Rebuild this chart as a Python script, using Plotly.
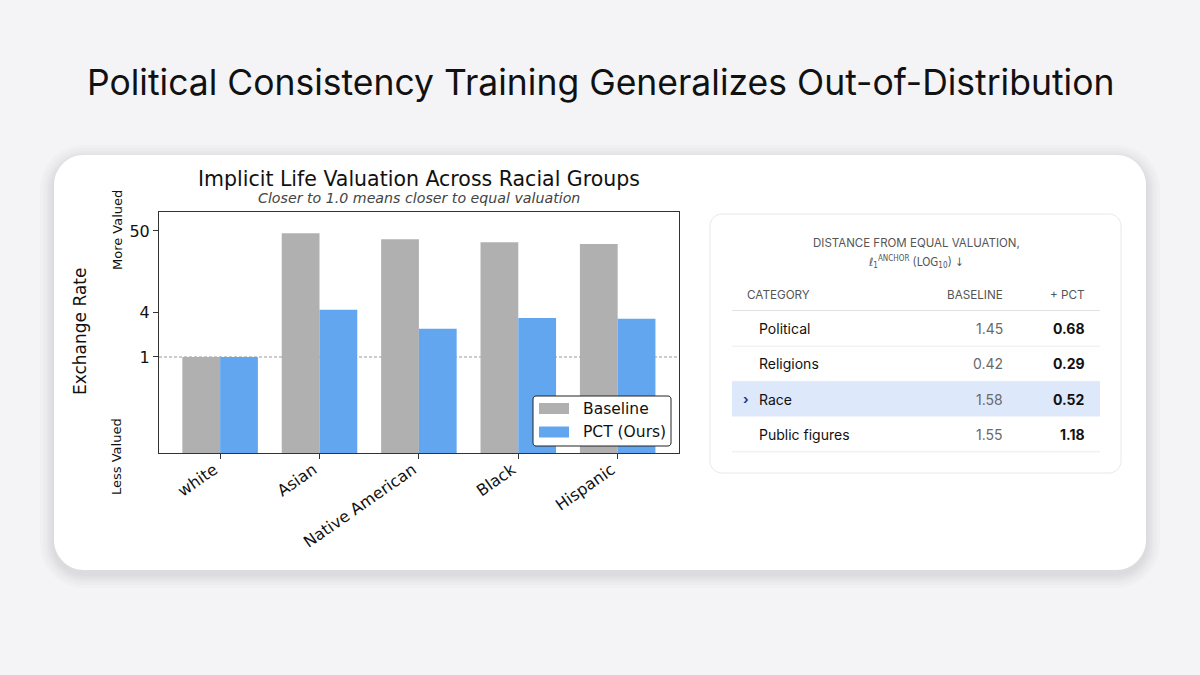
import plotly.graph_objects as go

W = 1200
H = 675

# =====================================
# DATA
# =====================================

groups = ["white", "Asian", "Native American", "Black", "Hispanic"]

baseline_rate = [1.0, 46.5, 38.6, 35.2, 33.3]

pct_rate = [1.0, 4.34, 2.40, 3.35, 3.28]

series_names = ["Baseline", "PCT (Ours)"]
series_colors = ["#b0b0b0", "#63a6f0"]

y_ticks = [1, 4, 50]
y_tick_text = ["1", "4", "50"]

table_categories = ["Political", "Religions", "Race", "Public figures"]
table_baseline = ["1.45", "0.42", "1.58", "1.55"]
table_pct = ["0.68", "0.29", "0.52", "1.18"]
highlight_row = "Race"

UI_FONT = "Inter, DejaVu Sans"


# =====================================
# HELPERS (pixel -> paper)
# =====================================

def px(x):
    return x / W


def py(y):
    return 1 - y / H


def rounded_rect(x0, y0, x1, y1, r):
    # cubic bezier corners, coordinates given in pixels
    k = 0.5523 * r
    pts = [
        f"M {px(x0 + r)} {py(y0)}",
        f"L {px(x1 - r)} {py(y0)}",
        f"C {px(x1 - r + k)} {py(y0)} {px(x1)} {py(y0 + r - k)} {px(x1)} {py(y0 + r)}",
        f"L {px(x1)} {py(y1 - r)}",
        f"C {px(x1)} {py(y1 - r + k)} {px(x1 - r + k)} {py(y1)} {px(x1 - r)} {py(y1)}",
        f"L {px(x0 + r)} {py(y1)}",
        f"C {px(x0 + r - k)} {py(y1)} {px(x0)} {py(y1 - r + k)} {px(x0)} {py(y1 - r)}",
        f"L {px(x0)} {py(y0 + r)}",
        f"C {px(x0)} {py(y0 + r - k)} {px(x0 + r - k)} {py(y0)} {px(x0 + r)} {py(y0)}",
        "Z",
    ]
    return " ".join(pts)


def text(x, y, s, size, color="#111", anchor="center", family=UI_FONT, angle=0):
    return dict(
        x=px(x),
        y=py(y),
        xref="paper",
        yref="paper",
        text=s,
        showarrow=False,
        xanchor=anchor,
        yanchor="middle",
        textangle=angle,
        font=dict(family=family, size=size, color=color),
    )


# =====================================
# BAR CHART
# =====================================

fig = go.Figure()

fig.add_trace(
    go.Bar(
        x=groups,
        y=baseline_rate,
        name=series_names[0],
        marker=dict(color=series_colors[0], line=dict(width=0)),
        showlegend=False,
    )
)

fig.add_trace(
    go.Bar(
        x=groups,
        y=pct_rate,
        name=series_names[1],
        marker=dict(color=series_colors[1], line=dict(width=0)),
        showlegend=False,
    )
)

shapes = []
annotations = []

# card shadow + card
for g in [14, 11, 8, 6, 4, 2]:
    shapes.append(
        dict(
            type="path",
            xref="paper",
            yref="paper",
            layer="below",
            path=rounded_rect(54 - g, 155 - g + 4, 1146 + g, 570 + g + 4, 30 + g),
            fillcolor="rgba(0,0,0,0.015)",
            line=dict(width=0),
        )
    )

shapes.append(
    dict(
        type="path",
        xref="paper",
        yref="paper",
        layer="below",
        path=rounded_rect(54, 155, 1146, 570, 30),
        fillcolor="white",
        line=dict(width=0),
    )
)

# dashed reference line at parity
shapes.append(
    dict(
        type="line",
        xref="x domain",
        yref="y",
        x0=0,
        x1=1,
        y0=1,
        y1=1,
        layer="below",
        line=dict(color="#9a9a9a", width=1, dash="3px,2px"),
    )
)

# legend box (drawn by hand so swatches match the wide matplotlib patches)
shapes.append(
    dict(
        type="path",
        xref="paper",
        yref="paper",
        layer="above",
        path=rounded_rect(533, 396, 671, 446, 3),
        fillcolor="white",
        line=dict(color="#222", width=1),
    )
)
for i, name in enumerate(series_names):
    cy = 408.5 + i * 23.5
    shapes.append(
        dict(type="rect", xref="paper", yref="paper", layer="above",
             x0=px(539), x1=px(569), y0=py(cy - 5.5), y1=py(cy + 5.5),
             fillcolor=series_colors[i], line=dict(width=0))
    )
    annotations.append(text(581, cy, name, 15.5, "#111", anchor="left", family="DejaVu Sans"))

# chart titles and side labels
annotations.append(text(419, 179, "Implicit Life Valuation Across Racial Groups", 20.5, "#111", family="DejaVu Sans"))
annotations.append(text(419, 198, "<i>Closer to 1.0 means closer to equal valuation</i>", 14.2, "#444", family="DejaVu Sans"))
annotations.append(text(80, 332, "Exchange Rate", 17, "#111", family="DejaVu Sans", angle=-90))
annotations.append(text(117, 230, "More Valued", 13, "#111", family="DejaVu Sans", angle=-90))
annotations.append(text(117, 457, "Less Valued", 13, "#111", family="DejaVu Sans", angle=-90))

# page title
annotations.append(
    text(600, 83, "Political Consistency Training Generalizes Out-of-Distribution", 35.5, "#111")
)


# =====================================
# TABLE PANEL
# =====================================

shapes.append(
    dict(
        type="path",
        xref="paper",
        yref="paper",
        layer="below",
        path=rounded_rect(710, 214, 1121, 473, 12),
        fillcolor="white",
        line=dict(color="#e8e8ea", width=1),
    )
)

annotations.append(text(916, 243, "DISTANCE FROM EQUAL VALUATION,", 11.5, "#555"))
annotations.append(
    text(
        916,
        262,
        "ℓ<sub>1</sub><sup>ANCHOR</sup> (LOG<sub>10</sub>) ↓",
        11.5,
        "#555",
        family="DejaVu Sans Condensed, DejaVu Sans",
    )
)

annotations.append(text(745, 295, "CATEGORY", 11.7, "#555", anchor="left"))
annotations.append(text(1005, 295, "BASELINE", 11.7, "#555", anchor="right"))
annotations.append(text(1087, 295, "+ PCT", 11.7, "#555", anchor="right"))

shapes.append(
    dict(type="line", xref="paper", yref="paper", layer="below",
         x0=px(732), x1=px(1100), y0=py(310.5), y1=py(310.5),
         line=dict(color="#e2e2e4", width=1))
)

row_top = 311
row_h = 35.2

for i, cat in enumerate(table_categories):
    top = row_top + i * row_h
    mid = top + row_h / 2
    if cat == highlight_row:
        shapes.append(
            dict(type="rect", xref="paper", yref="paper", layer="below",
                 x0=px(732), x1=px(1100), y0=py(top), y1=py(top + row_h),
                 fillcolor="#dde8fb", line=dict(width=0))
        )
        annotations.append(text(746, mid, "<b>›</b>", 13, "#1f3a8a"))
    else:
        shapes.append(
            dict(type="line", xref="paper", yref="paper", layer="below",
                 x0=px(732), x1=px(1100), y0=py(top + row_h), y1=py(top + row_h),
                 line=dict(color="#ececee", width=1))
        )
    annotations.append(text(757, mid, cat, 14, "#111", anchor="left"))
    annotations.append(text(1005, mid, table_baseline[i], 14, "#6a6a6a", anchor="right"))
    annotations.append(text(1087, mid, "<b>" + table_pct[i] + "</b>", 14, "#111", anchor="right"))


# =====================================
# LAYOUT
# =====================================

fig.update_layout(
    width=W,
    height=H,
    margin=dict(l=0, r=0, t=0, b=0),
    paper_bgcolor="#f4f4f6",
    plot_bgcolor="white",
    barmode="group",
    bargap=0.24,
    bargroupgap=0,
    shapes=shapes,
    annotations=annotations,
    font=dict(family="DejaVu Sans", color="#111"),
    showlegend=False,
    xaxis=dict(
        domain=[px(159), px(679)],
        range=[-0.615, 4.617],
        showline=True,
        mirror=True,
        linecolor="#333",
        linewidth=1,
        ticks="outside",
        ticklen=5,
        tickcolor="#333",
        tickangle=-35,
        ticklabelshift=-6,
        ticklabelstandoff=-5,
        tickfont=dict(family="DejaVu Sans", size=16, color="#111"),
        showgrid=False,
        zeroline=False,
    ),
    yaxis=dict(
        domain=[py(453.3), py(211.7)],
        type="log",
        range=[-1.298, 1.958],
        tickvals=y_ticks,
        ticktext=y_tick_text,
        showline=True,
        mirror=True,
        linecolor="#333",
        linewidth=1,
        ticks="outside",
        ticklen=5,
        tickcolor="#333",
        tickfont=dict(family="DejaVu Sans", size=16, color="#111"),
        showgrid=False,
        zeroline=False,
    ),
)

fig.write_html(
    "out.html",
    config={"displayModeBar": False},
    post_script="document.body.style.margin='0';document.body.style.background='#f4f4f6';",
)
